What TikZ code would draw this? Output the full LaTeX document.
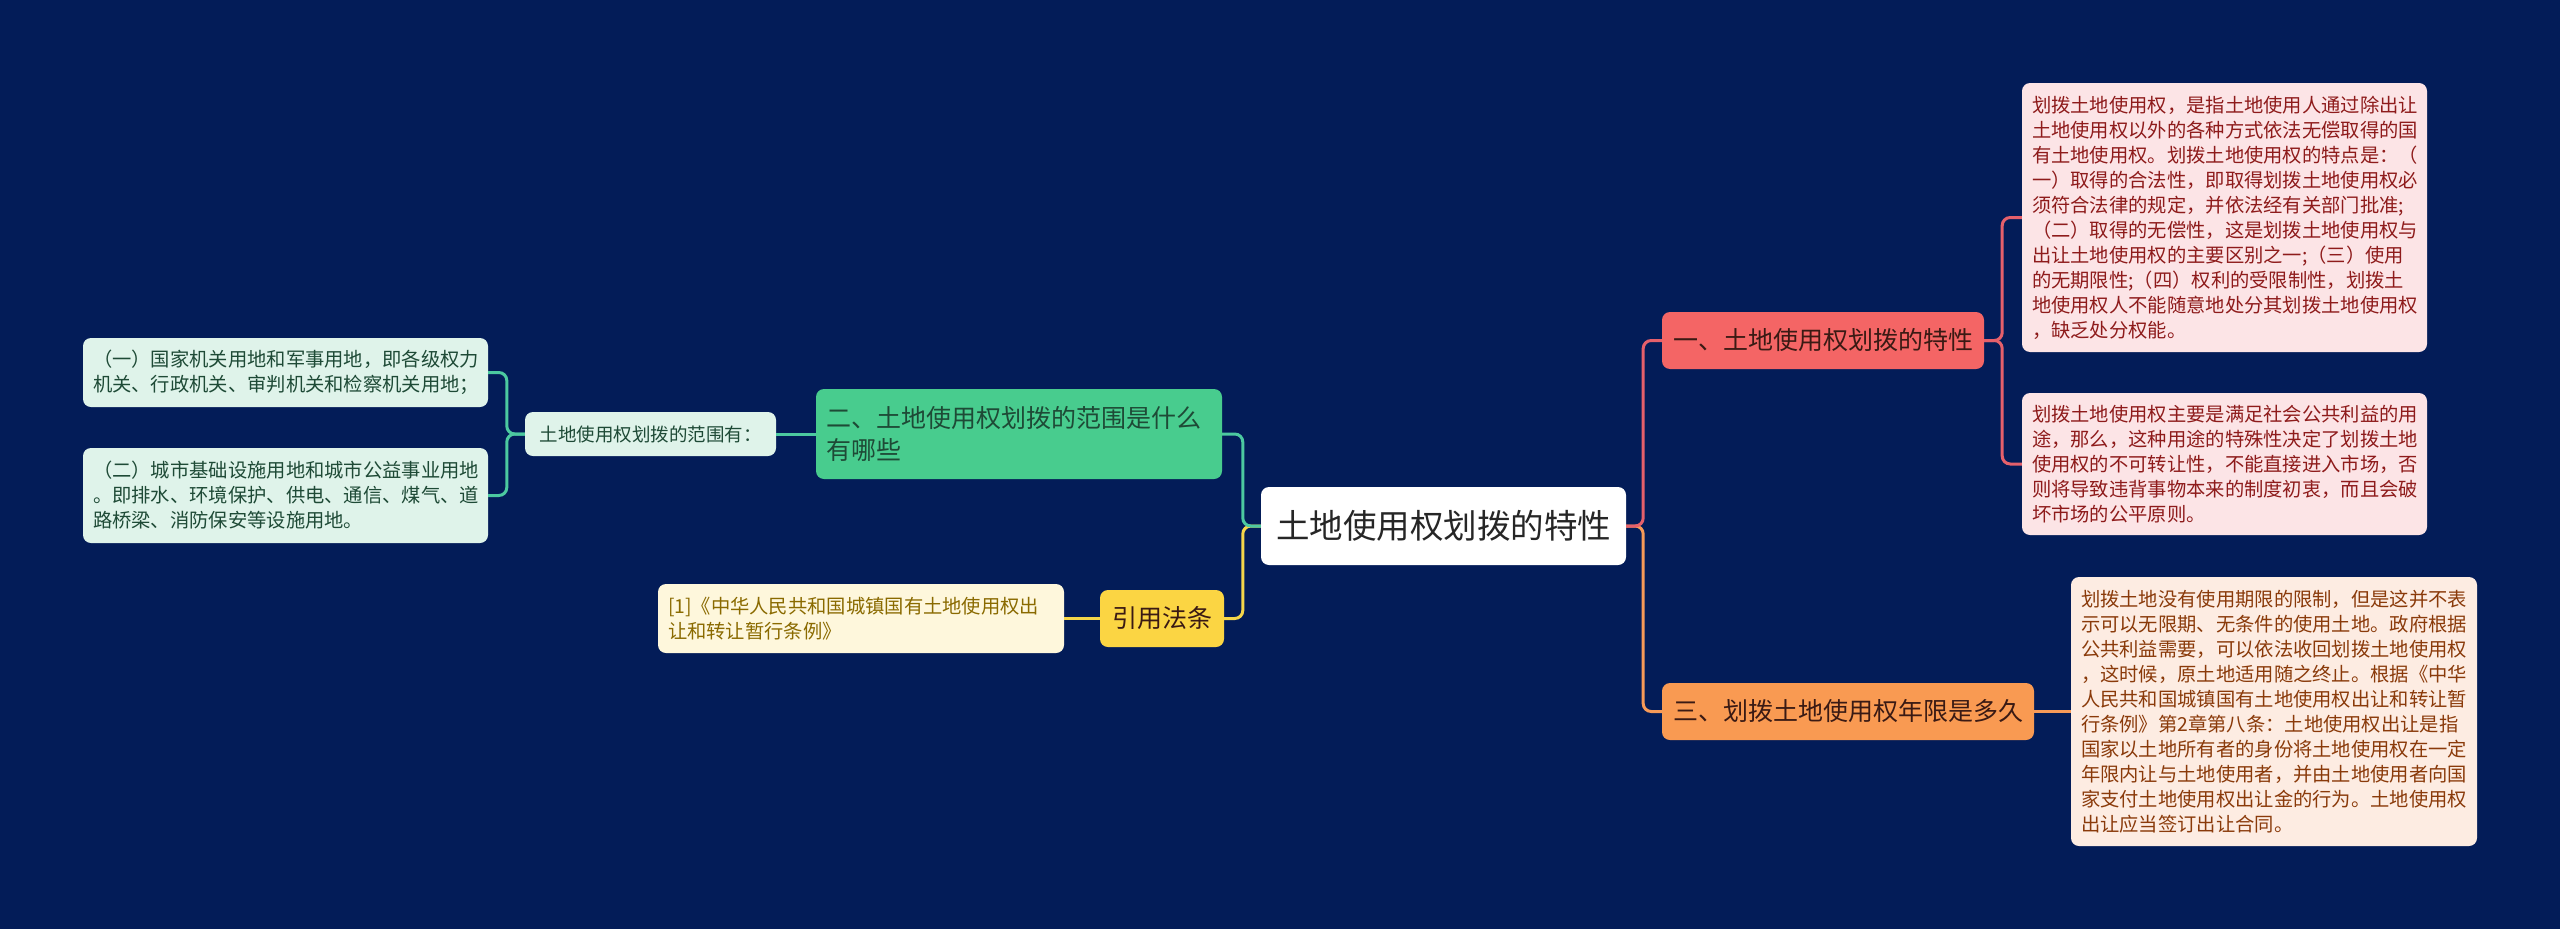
\documentclass[tikz,border=0pt]{standalone}
\usepackage{fontspec}
\setmainfont{Noto Sans CJK SC}
\usetikzlibrary{calc}
\definecolor{bg}{HTML}{031C58}
\definecolor{rednode}{HTML}{F46565}
\definecolor{redline}{HTML}{E5606B}
\definecolor{redleaf}{HTML}{FCE4E6}
\definecolor{redtext}{HTML}{8E1B1B}
\definecolor{orgnode}{HTML}{F99A52}
\definecolor{orgline}{HTML}{F79A58}
\definecolor{orgleaf}{HTML}{FDECE2}
\definecolor{orgtext}{HTML}{8A3A0A}
\definecolor{grnnode}{HTML}{48CC8E}
\definecolor{grnline}{HTML}{4CC9A0}
\definecolor{grnleaf}{HTML}{DFF3EA}
\definecolor{grntext}{HTML}{1E4A36}
\definecolor{ylwnode}{HTML}{FBD543}
\definecolor{ylwline}{HTML}{F5D64A}
\definecolor{ylwleaf}{HTML}{FEF7DC}
\definecolor{ylwtext}{HTML}{8A6A00}
\definecolor{darktext}{HTML}{3A1A14}
\begin{document}
\begin{tikzpicture}[x=1pt,y=-1pt,
  box/.style={rounded corners=8pt, inner xsep=10pt, inner ysep=0pt, align=left, anchor=center},
  leaf/.style={box, font=\fontsize{19.3pt}{25pt}\selectfont},
  mid/.style={box, font=\fontsize{25pt}{32pt}\selectfont},
  conn/.style={line width=3pt, rounded corners=8pt}]
\fill[bg] (0,0) rectangle (2560,929);
\useasboundingbox (0,0) rectangle (2560,929);

% central
\node[box, fill=white, text=black!85, font=\fontsize{33.5pt}{42pt}\selectfont, align=center,
  minimum width=365pt, minimum height=78pt] (c) at (1443.5,526) {土地使用权划拨的特性};

% right main nodes
\node[mid, fill=rednode, text=darktext, minimum width=322pt, minimum height=57pt, align=center] (n1) at (1823,340.5) {一、土地使用权划拨的特性};
\node[mid, fill=orgnode, text=darktext, minimum width=372pt, minimum height=57pt, align=center] (n3) at (1848,711.5) {三、划拨土地使用权年限是多久};

% right leaves
\node[leaf, fill=redleaf, text=redtext, text width=385pt, minimum height=269pt] (l1) at (2224.5,217.5) {划拨土地使用权，是指土地使用人通过除出让\\土地使用权以外的各种方式依法无偿取得的国\\有土地使用权。划拨土地使用权的特点是：（\\一）取得的合法性，即取得划拨土地使用权必\\须符合法律的规定，并依法经有关部门批准;\\（二）取得的无偿性，这是划拨土地使用权与\\出让土地使用权的主要区别之一;（三）使用\\的无期限性;（四）权利的受限制性，划拨土\\地使用权人不能随意地处分其划拨土地使用权\\，缺乏处分权能。};
\node[leaf, fill=redleaf, text=redtext, text width=385pt, minimum height=142pt] (l2) at (2224.5,464) {划拨土地使用权主要是满足社会公共利益的用\\途，那么，这种用途的特殊性决定了划拨土地\\使用权的不可转让性，不能直接进入市场，否\\则将导致违背事物本来的制度初衷，而且会破\\坏市场的公平原则。};
\node[leaf, fill=orgleaf, text=orgtext, text width=386pt, minimum height=269pt] (l3) at (2274,711.5) {划拨土地没有使用期限的限制，但是这并不表\\示可以无限期、无条件的使用土地。政府根据\\公共利益需要，可以依法收回划拨土地使用权\\，这时候，原土地适用随之终止。根据《中华\\人民共和国城镇国有土地使用权出让和转让暂\\行条例》第2章第八条：土地使用权出让是指\\国家以土地所有者的身份将土地使用权在一定\\年限内让与土地使用者，并由土地使用者向国\\家支付土地使用权出让金的行为。土地使用权\\出让应当签订出让合同。};

% left main nodes
\node[mid, fill=grnnode, text=grntext, text width=386pt, minimum height=90pt] (n2) at (1019,434) {二、土地使用权划拨的范围是什么\\有哪些};
\node[mid, fill=ylwnode, text=darktext, minimum width=124pt, minimum height=57pt, align=center] (n4) at (1162,618.5) {引用法条};

% left leaves
\node[leaf, fill=grnleaf, text=grntext, minimum width=251pt, minimum height=44pt, font=\fontsize{18.5pt}{25pt}\selectfont] (s) at (650.5,434) {土地使用权划拨的范围有：};
\node[leaf, fill=grnleaf, text=grntext, text width=385pt, minimum height=69pt] (g1) at (285.5,372.5) {（一）国家机关用地和军事用地，即各级权力\\机关、行政机关、审判机关和检察机关用地；};
\node[leaf, fill=grnleaf, text=grntext, text width=385pt, minimum height=95pt] (g2) at (285.5,495.5) {（二）城市基础设施用地和城市公益事业用地\\。即排水、环境保护、供电、通信、煤气、道\\路桥梁、消防保安等设施用地。};
\node[leaf, fill=ylwleaf, text=ylwtext, text width=386pt, minimum height=69pt] (cite) at (861,618.5) {[1]《中华人民共和国城镇国有土地使用权出\\让和转让暂行条例》};

% connectors right
\draw[conn, orgline] (c.east) -- ++(17,0) |- (n3.west);
\draw[conn, redline] (c.east) -- ++(17,0) |- (n1.west);
\draw[conn, redline] (n1.east) -- ++(18,0) |- (l1.west);
\draw[conn, redline] (n1.east) -- ++(18,0) |- (l2.west);
\draw[conn, orgline] (n3.east) -- (l3.west);

% connectors left
\draw[conn, ylwline] (c.west) -- ++(-18,0) |- (n4.east);
\draw[conn, grnline] (c.west) -- ++(-18,0) |- (n2.east);
\draw[conn, grnline] (n2.west) -- (s.east);
\draw[conn, grnline] (s.west) -- ++(-18,0) |- (g1.east);
\draw[conn, grnline] (s.west) -- ++(-18,0) |- (g2.east);
\draw[conn, ylwline] (n4.west) -- (cite.east);
\end{tikzpicture}
\end{document}
